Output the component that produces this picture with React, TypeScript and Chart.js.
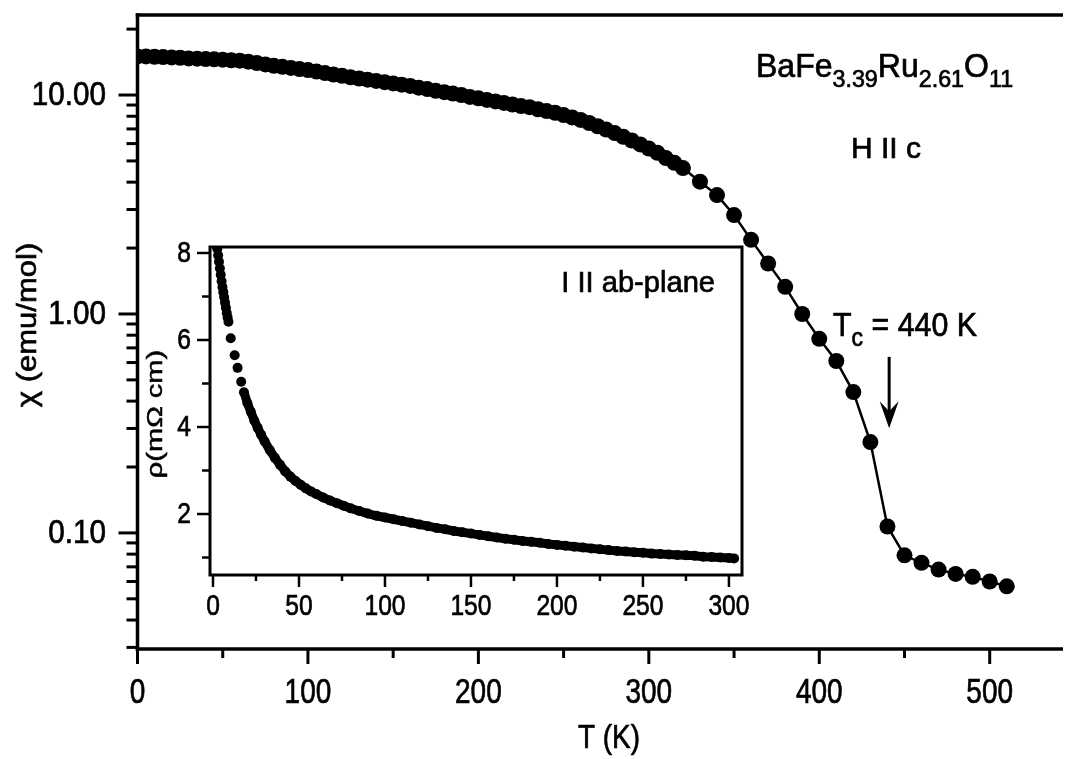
import React, { useEffect, useRef } from "react";
import { Chart, registerables } from "chart.js";
Chart.register(...registerables);

const W = 1071;
const H = 759;
const FONT = '"Liberation Sans", Arial, Helvetica, sans-serif';

// ---- main chart data: susceptibility chi (emu/mol) vs T (K), H || c ----
const mainTemps = [
  0, 5, 10, 15, 20, 25, 30, 35, 40, 45, 50, 55, 60, 65, 70, 75, 80, 85, 90, 95,
  100, 105, 110, 115, 120, 125, 130, 135, 140, 145, 150, 155, 160, 165, 170, 175,
  180, 185, 190, 195, 200, 205, 210, 215, 220, 225, 230, 235, 240, 245, 250, 255,
  260, 265, 270, 275, 280, 285, 290, 295, 300, 305, 310, 315, 320,
  330, 340, 350, 360, 370, 380, 390, 400, 410, 420, 430, 440, 450, 460, 470, 480,
  490, 500, 510,
];
const mainChi = [
  15.0, 15.0, 14.95, 14.9, 14.85, 14.8, 14.7, 14.65, 14.6, 14.55, 14.5, 14.4, 14.35,
  14.2, 14.0, 13.8, 13.6, 13.45, 13.3, 13.15, 13.0, 12.8, 12.6, 12.4, 12.25, 12.05,
  11.9, 11.75, 11.6, 11.45, 11.3, 11.15, 11.0, 10.8, 10.65, 10.45, 10.3, 10.15, 10.0,
  9.8, 9.66, 9.5, 9.35, 9.2, 9.05, 8.9, 8.8, 8.6, 8.45, 8.3, 8.1, 7.9, 7.7, 7.45, 7.2,
  6.95, 6.7, 6.45, 6.2, 5.95, 5.7, 5.45, 5.15, 4.9, 4.64,
  4.02, 3.49, 2.83, 2.18, 1.7, 1.33, 1.0, 0.77, 0.61, 0.44, 0.26, 0.107, 0.079,
  0.073, 0.068, 0.065, 0.063, 0.06, 0.057,
];
const mainXTicks = [0, 100, 200, 300, 400, 500];
const mainYTicks = [0.1, 1, 10];
const mainYTickLabels = ["0.10", "1.00", "10.00"];
const TC = 441;
const arrowFrom = 0.637;
const arrowTo = 0.301;

// ---- inset data: resistivity rho (mOhm cm) vs T (K), I || ab-plane ----
const insetHeadTemps = [2.5, 3, 3.5, 4, 4.5, 5, 5.5, 6, 6.5, 7, 7.5, 8, 8.5, 9, 10.3, 12.6, 14.3, 16.4];
const insetHeadRho = [8.1, 7.95, 7.8, 7.65, 7.5, 7.35, 7.22, 7.1, 6.98, 6.86, 6.74, 6.62, 6.52, 6.42, 6.04, 5.65, 5.36, 5.04];
const insetTemps = [
  18, 20, 22, 24, 26, 28, 30, 33, 36, 39, 42, 45, 48, 51, 54, 57, 60, 64, 68, 72, 76,
  80, 85, 90, 95, 100, 105, 110, 115, 120, 125, 130, 135, 140, 145, 150, 155, 160,
  165, 170, 175, 180, 185, 190, 195, 200, 205, 210, 215, 220, 225, 230, 235, 240,
  245, 250, 255, 260, 265, 270, 275, 280, 285, 290, 295, 300, 303,
];
const insetRho = [
  4.8, 4.55, 4.35, 4.15, 3.98, 3.82, 3.67, 3.47, 3.29, 3.13, 2.98, 2.86, 2.76, 2.67,
  2.59, 2.52, 2.46, 2.38, 2.31, 2.25, 2.19, 2.13, 2.07, 2.01, 1.96, 1.92, 1.88, 1.84,
  1.8, 1.76, 1.72, 1.68, 1.65, 1.61, 1.58, 1.55, 1.52, 1.49, 1.46, 1.43, 1.41, 1.38,
  1.36, 1.34, 1.31, 1.29, 1.27, 1.25, 1.23, 1.21, 1.19, 1.17, 1.15, 1.14, 1.12, 1.11,
  1.09, 1.08, 1.07, 1.06, 1.05, 1.04, 1.02, 1.01, 1.0, 0.99, 0.98,
];
const insetXTicks = [0, 50, 100, 150, 200, 250, 300];
const insetYTicks = [2, 4, 6, 8];

type Part = { t: string; size: number; dy: number };

const STROKE = 0.7;

function txt(
  ctx: CanvasRenderingContext2D,
  s: string,
  x: number,
  y: number,
  size: number,
  align: CanvasTextAlign,
  baseline: CanvasTextBaseline,
  sx = 1,
  rot = 0,
  sy = 1
) {
  ctx.save();
  ctx.translate(x, y);
  if (rot) ctx.rotate(rot);
  ctx.scale(sx, sy);
  ctx.font = `${size}px ${FONT}`;
  ctx.textAlign = align;
  ctx.textBaseline = baseline;
  ctx.fillStyle = "#000";
  ctx.strokeStyle = "#000";
  ctx.lineWidth = STROKE;
  ctx.fillText(s, 0, 0);
  ctx.strokeText(s, 0, 0);
  ctx.restore();
}

function rich(ctx: CanvasRenderingContext2D, parts: Part[], x: number, y: number, sx = 1) {
  let cx = x;
  for (const p of parts) {
    ctx.save();
    ctx.font = `${p.size}px ${FONT}`;
    const w = ctx.measureText(p.t).width * sx;
    ctx.translate(cx, y + p.dy);
    ctx.scale(sx, 1);
    ctx.textAlign = "left";
    ctx.textBaseline = "alphabetic";
    ctx.fillStyle = "#000";
    ctx.strokeStyle = "#000";
    ctx.lineWidth = STROKE;
    ctx.fillText(p.t, 0, 0);
    ctx.strokeText(p.t, 0, 0);
    ctx.restore();
    cx += w;
  }
}

function line(ctx: CanvasRenderingContext2D, x1: number, y1: number, x2: number, y2: number) {
  ctx.beginPath();
  ctx.moveTo(x1, y1);
  ctx.lineTo(x2, y2);
  ctx.stroke();
}

const mainDecor = {
  id: "mainDecor",
  afterDraw(chart: any) {
    const ctx: CanvasRenderingContext2D = chart.ctx;
    const { left, top, right, bottom } = chart.chartArea;
    const xs = chart.scales.x;
    const ys = chart.scales.y;
    ctx.save();
    ctx.strokeStyle = "#000";
    ctx.lineWidth = 3.5;
    ctx.lineCap = "butt";
    line(ctx, left, top - 1.75, left, bottom + 1.75);
    line(ctx, left - 1.75, top, right, top);
    line(ctx, left - 1.75, bottom, right, bottom);
    ctx.lineWidth = 3;
    // y ticks (log)
    for (let d = -2; d <= 1; d++) {
      for (let k = 1; k <= 9; k++) {
        const v = k * Math.pow(10, d);
        if (v < ys.min || v > ys.max) continue;
        const py = ys.getPixelForValue(v);
        const len = k === 1 ? 19 : 11;
        line(ctx, left - len, py, left, py);
      }
    }
    mainYTicks.forEach((v, i) => {
      txt(ctx, mainYTickLabels[i], 106, ys.getPixelForValue(v) + 1, 33, "right", "middle", 0.9);
    });
    // x ticks
    for (let t = 0; t <= xs.max; t += 50) {
      const px = xs.getPixelForValue(t);
      const len = t % 100 === 0 ? 15 : 9;
      line(ctx, px, bottom, px, bottom + len);
    }
    mainXTicks.forEach((t) => {
      txt(ctx, String(t), xs.getPixelForValue(t), 693, 35, "center", "middle", 0.8);
    });
    // axis titles
    txt(ctx, "T (K)", 609, 739, 34, "center", "middle", 0.82);
    txt(ctx, "χ (emu/mol)", 28, 325, 31, "center", "middle", 1, -Math.PI / 2, 0.9);
    // annotations
    rich(
      ctx,
      [
        { t: "BaFe", size: 33, dy: 0 },
        { t: "3.39", size: 24, dy: 10 },
        { t: "Ru", size: 33, dy: 0 },
        { t: "2.61", size: 24, dy: 10 },
        { t: "O", size: 33, dy: 0 },
        { t: "11", size: 24, dy: 10 },
      ],
      756,
      77,
      0.97
    );
    txt(ctx, "H II c", 851, 158, 30, "left", "alphabetic", 1);
    rich(
      ctx,
      [
        { t: "T", size: 33, dy: 0 },
        { t: "c", size: 25, dy: 10 },
        { t: " = 440 K", size: 33, dy: 0 },
      ],
      833,
      336,
      0.92
    );
    // arrow at Tc
    const ax = xs.getPixelForValue(TC);
    const ay1 = ys.getPixelForValue(arrowFrom);
    const ay2 = ys.getPixelForValue(arrowTo);
    ctx.lineWidth = 3;
    line(ctx, ax, ay1, ax, ay2 - 12);
    ctx.fillStyle = "#000";
    ctx.beginPath();
    ctx.moveTo(ax, ay2);
    ctx.lineTo(ax - 9.5, ay2 - 27);
    ctx.lineTo(ax, ay2 - 17);
    ctx.lineTo(ax + 9.5, ay2 - 27);
    ctx.closePath();
    ctx.fill();
    ctx.restore();
  },
};

const insetDecor = {
  id: "insetDecor",
  beforeDatasetsDraw(chart: any) {
    const ctx: CanvasRenderingContext2D = chart.ctx;
    const { left, top, right, bottom } = chart.chartArea;
    ctx.save();
    ctx.fillStyle = "#fff";
    ctx.fillRect(left, top, right - left, bottom - top);
    ctx.restore();
  },
  afterDraw(chart: any) {
    const ctx: CanvasRenderingContext2D = chart.ctx;
    const { left, top, right, bottom } = chart.chartArea;
    const xs = chart.scales.x;
    const ys = chart.scales.y;
    ctx.save();
    ctx.strokeStyle = "#000";
    ctx.lineWidth = 3;
    ctx.strokeRect(left, top, right - left, bottom - top);
    ctx.lineWidth = 2.5;
    for (let v = 1; v <= 8; v++) {
      const py = ys.getPixelForValue(v);
      const len = v % 2 === 0 ? 13 : 8;
      line(ctx, left - len, py, left, py);
    }
    for (let t = 0; t <= 300; t += 25) {
      const px = xs.getPixelForValue(t);
      const len = t % 50 === 0 ? 12 : 6;
      line(ctx, px, bottom, px, bottom + len);
    }
    insetYTicks.forEach((v) => {
      txt(ctx, String(v), 191, ys.getPixelForValue(v) + 1, 30, "right", "middle", 0.82);
    });
    insetXTicks.forEach((t) => {
      txt(ctx, String(t), xs.getPixelForValue(t), 607, 30, "center", "middle", 0.82);
    });
    txt(ctx, "ρ(mΩ cm)", 156, 414, 29, "center", "middle", 1, -Math.PI / 2, 0.75);
    txt(ctx, "I II ab-plane", 715, 292, 30, "right", "alphabetic", 0.97);
    ctx.restore();
  },
};

export default function App() {
  const mainRef = useRef<HTMLCanvasElement | null>(null);
  const insetRef = useRef<HTMLCanvasElement | null>(null);

  useEffect(() => {
    if (!mainRef.current || !insetRef.current) return;
    const main = new Chart(mainRef.current, {
      type: "scatter",
      data: {
        datasets: [
          {
            data: mainTemps.map((t, i) => ({ x: t, y: mainChi[i] })),
            showLine: true,
            borderColor: "#000",
            borderWidth: 2.5,
            pointRadius: 8,
            pointHoverRadius: 8,
            pointBackgroundColor: "#000",
            pointBorderWidth: 0,
          },
        ],
      },
      options: {
        responsive: false,
        animation: false,
        events: [],
        layout: { padding: { left: 137.5, top: 15, right: 0, bottom: 110 } },
        plugins: { legend: { display: false }, tooltip: { enabled: false } },
        scales: {
          x: { type: "linear", display: false, min: 0, max: 543 },
          y: { type: "logarithmic", display: false, min: 0.0295, max: 23.2 },
        },
      },
      plugins: [mainDecor],
    });
    const inset = new Chart(insetRef.current, {
      type: "scatter",
      data: {
        datasets: [
          {
            data: insetHeadTemps.map((t, i) => ({ x: t, y: insetHeadRho[i] })),
            showLine: false,
            pointRadius: 5,
            pointHoverRadius: 5,
            pointBackgroundColor: "#000",
            pointBorderWidth: 0,
          },
          {
            data: insetTemps.map((t, i) => ({ x: t, y: insetRho[i] })),
            showLine: true,
            borderColor: "#000",
            borderWidth: 9,
            pointRadius: 5,
            pointHoverRadius: 5,
            pointBackgroundColor: "#000",
            pointBorderWidth: 0,
          },
        ],
      },
      options: {
        responsive: false,
        animation: false,
        events: [],
        layout: { padding: { left: 210, top: 247, right: W - 742, bottom: H - 575 } },
        plugins: { legend: { display: false }, tooltip: { enabled: false } },
        scales: {
          x: { type: "linear", display: false, min: -1.74, max: 307.6 },
          y: { type: "linear", display: false, min: 0.598, max: 8.138 },
        },
      },
      plugins: [insetDecor],
    });
    return () => {
      main.destroy();
      inset.destroy();
    };
  }, []);

  return (
    <div style={{ position: "fixed", left: 0, top: 0, width: W, height: H, background: "#fff" }}>
      <canvas ref={mainRef} width={W} height={H} style={{ position: "absolute", left: 0, top: 0, display: "block" }} />
      <canvas ref={insetRef} width={W} height={H} style={{ position: "absolute", left: 0, top: 0, display: "block" }} />
    </div>
  );
}
